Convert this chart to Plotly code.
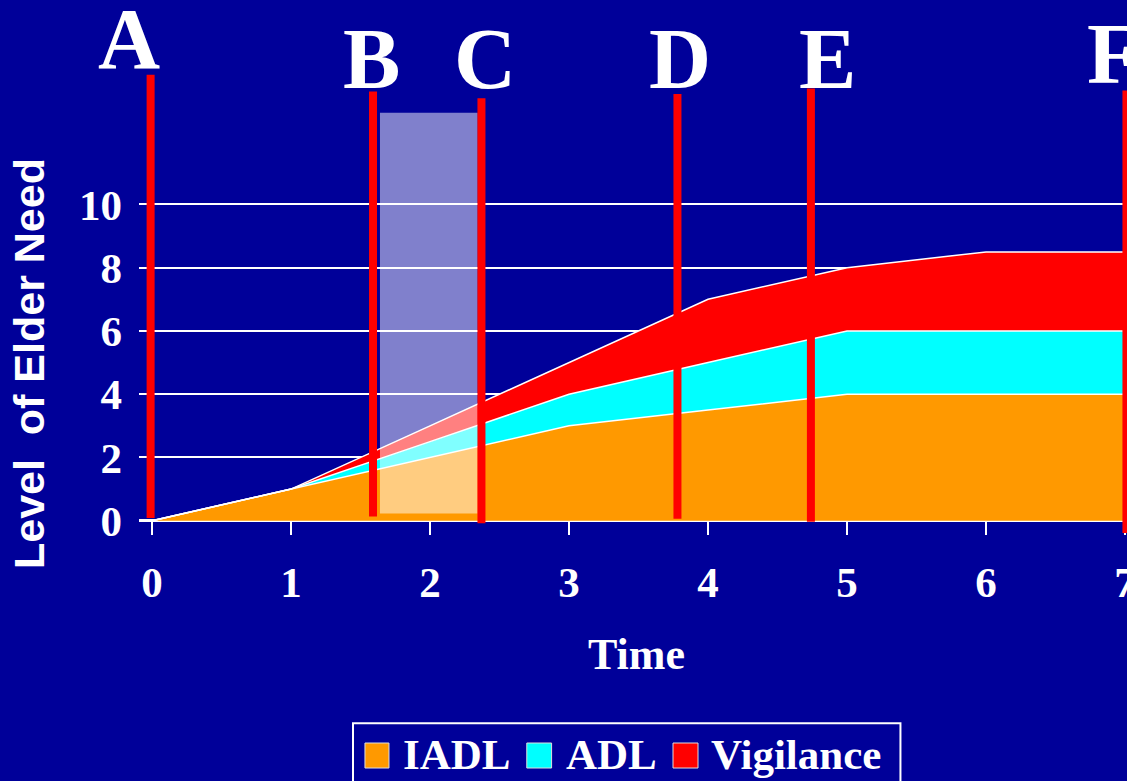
import plotly.graph_objects as go

# ---- data -------------------------------------------------------------
time = [0, 1, 2, 3, 4, 5, 6, 7]
iadl = [0, 1, 2, 3, 3.5, 4, 4, 4]
adl = [0, 0, 0.5, 1, 1.5, 2, 2, 2]
vigilance = [0, 0, 0.5, 1, 2, 2, 2.5, 2.5]

series_names = ["IADL", "ADL", "Vigilance"]
series_colors = ["#FF9900", "#00FFFF", "#FF0000"]

y_tick_values = [0, 2, 4, 6, 8, 10]
x_tick_values = [0, 1, 2, 3, 4, 5, 6, 7]

# phase markers along the time axis
phase_labels = ["A", "B", "C", "D", "E", "F"]
phase_times = [-0.01, 1.59, 2.37, 3.78, 4.74, 7.01]

# highlighted interval between phases B and C
window_start = 1.64
window_end = 2.343

# ---- styling ----------------------------------------------------------
BG = "#000099"
SERIF = "Liberation Serif"
SANS = "Liberation Sans"

# line extents (bottom, top) and label placement for the phase markers
phase_line_bottom = [0.085, 0.13, -0.08, 0.06, -0.03, -0.39]
phase_line_top = [14.10, 13.57, 13.36, 13.49, 13.67, 13.60]
phase_label_shift = [-22, -2, 4, 3, 17, -41]
phase_label_y = [1.068, 1.025, 1.025, 1.025, 1.025, 1.036]
phase_label_anchor = ["center"] * 5 + ["left"]

fig = go.Figure()

for name, values, color in zip(series_names, [iadl, adl, vigilance], series_colors):
    fig.add_trace(
        go.Scatter(
            x=time,
            y=values,
            name=name,
            mode="lines",
            stackgroup="need",
            line=dict(color="white", width=1.5),
            fillcolor=color,
            showlegend=False,
            hoverinfo="x+y+name",
        )
    )

shapes = []

# translucent window
shapes.append(
    dict(
        type="rect",
        xref="x",
        yref="y",
        x0=window_start,
        x1=window_end,
        y0=0.23,
        y1=12.9,
        fillcolor="rgba(255,255,255,0.5)",
        line=dict(width=0),
        layer="above",
    )
)

# red phase lines
for t, y0, y1 in zip(phase_times, phase_line_bottom, phase_line_top):
    shapes.append(
        dict(
            type="line",
            xref="x",
            yref="y",
            x0=t,
            x1=t,
            y0=y0,
            y1=y1,
            line=dict(color="#FF0000", width=8),
            layer="above",
        )
    )

annotations = []
for label, t, shift, ly, anchor in zip(
    phase_labels, phase_times, phase_label_shift, phase_label_y, phase_label_anchor
):
    annotations.append(
        dict(
            text=label,
            x=t,
            y=ly,
            xref="x",
            yref="paper",
            xshift=shift,
            xanchor=anchor,
            yanchor="middle",
            showarrow=False,
            font=dict(family=SERIF, size=86, color="white", weight="bold"),
        )
    )

# axis titles
annotations.append(
    dict(
        text="Level\u00a0 of Elder Need",
        x=-0.1113,
        y=0.3685,
        xref="paper",
        yref="paper",
        xanchor="center",
        yanchor="middle",
        textangle=-90,
        showarrow=False,
        font=dict(family=SANS, size=43, color="white", weight="bold"),
    )
)
annotations.append(
    dict(
        text="Time",
        x=0.504,
        y=-0.2565,
        xref="paper",
        yref="paper",
        xanchor="center",
        yanchor="middle",
        showarrow=False,
        font=dict(family=SERIF, size=44, color="white", weight="bold"),
    )
)

# legend box with swatches
shapes.append(
    dict(
        type="rect",
        xref="paper",
        yref="paper",
        x0=0.2166,
        x1=0.7707,
        y0=-0.60,
        y1=-0.4058,
        fillcolor=BG,
        line=dict(color="white", width=2),
    )
)
swatch_x = [(0.2287, 0.2530), (0.3925, 0.4176), (0.5405, 0.5658)]
legend_text_x = [0.2650, 0.4300, 0.5770]
for (sx0, sx1), tx, name, color in zip(swatch_x, legend_text_x, series_names, series_colors):
    shapes.append(
        dict(
            type="rect",
            xref="paper",
            yref="paper",
            x0=sx0,
            x1=sx1,
            y0=-0.5022,
            y1=-0.4483,
            fillcolor=color,
            line=dict(color="#DDDDDD", width=1),
        )
    )
    annotations.append(
        dict(
            text=name,
            x=tx,
            y=-0.4741,
            xref="paper",
            yref="paper",
            xanchor="left",
            yanchor="middle",
            showarrow=False,
            font=dict(family=SERIF, size=43, color="white", weight="bold"),
        )
    )

tick_font = dict(family=SERIF, size=43, color="white", weight="bold")

fig.update_layout(
    width=1127,
    height=781,
    margin=dict(l=139, r=0, t=71, b=246),
    paper_bgcolor=BG,
    plot_bgcolor=BG,
    showlegend=False,
    shapes=shapes,
    annotations=annotations,
    xaxis=dict(
        range=[-0.0935, 7.014],
        tickvals=x_tick_values,
        ticktext=[str(v) for v in x_tick_values],
        ticks="inside",
        ticklen=14,
        tickwidth=2,
        tickcolor="white",
        showgrid=False,
        zeroline=False,
        showline=False,
        tickfont=tick_font,
        ticklabelstandoff=18,
        ticklabeloverflow="allow",
        automargin=False,
        fixedrange=True,
    ),
    yaxis=dict(
        range=[-0.452, 14.22],
        tickvals=y_tick_values,
        ticktext=[str(v) for v in y_tick_values],
        ticks="",
        showgrid=True,
        gridcolor="white",
        gridwidth=2,
        zeroline=True,
        zerolinecolor="white",
        zerolinewidth=3,
        showline=False,
        tickfont=tick_font,
        ticklabelstandoff=16,
        automargin=False,
        fixedrange=True,
    ),
)

fig.write_html("out.html")
